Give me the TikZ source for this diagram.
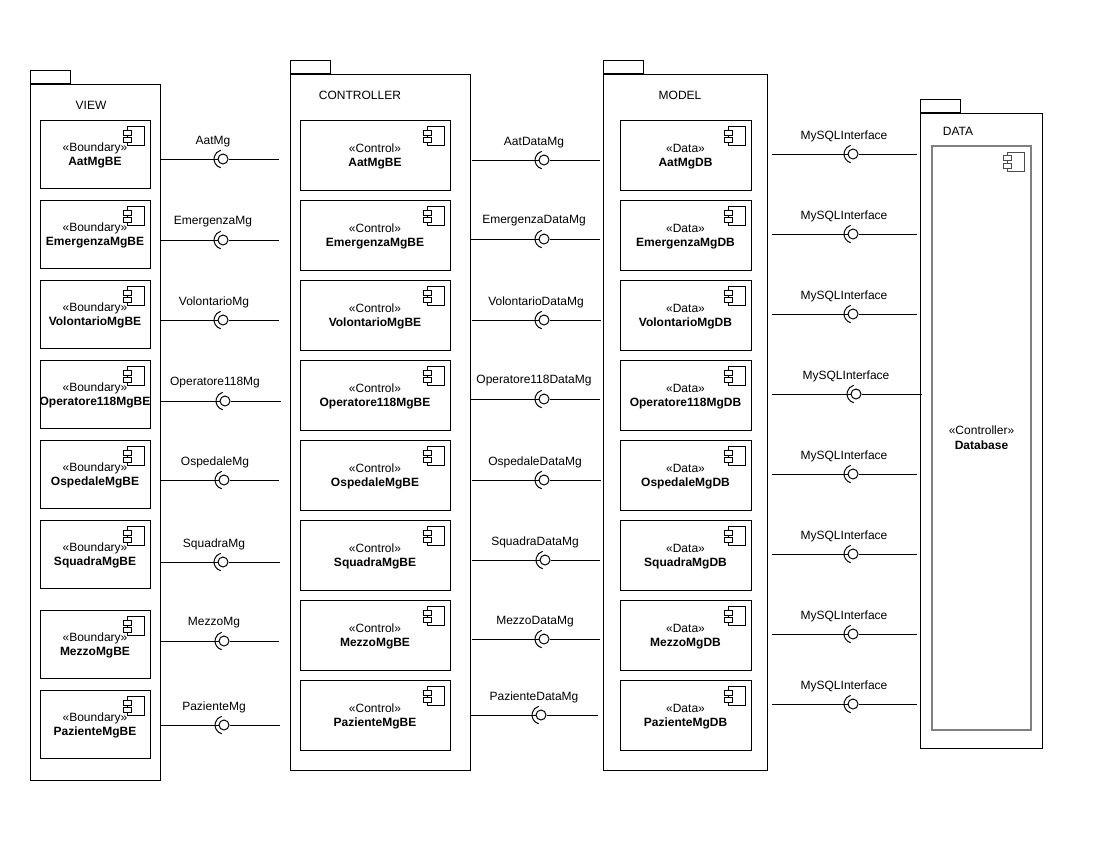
\documentclass[tikz,border=0pt]{standalone}
\usepackage{fontspec}
\setmainfont{Liberation Sans}
\usepackage{xcolor}
\usepackage{tikz}
\usetikzlibrary{positioning, calc}
\tikzset{
  pkg/.style={draw, rectangle, inner sep=0, anchor=north west},
  pkgtab/.style={draw, rectangle, inner sep=0, anchor=south west, minimum width=30pt, minimum height=10pt},
  boxtxt/.style={draw, rectangle, inner xsep=-3pt, inner ysep=0, align=center},
  viewbox/.style={boxtxt, minimum width=82.5pt, minimum height=51pt},
  ctrlbox/.style={boxtxt, minimum width=112.5pt, minimum height=52.5pt},
  modelbox/.style={boxtxt, minimum width=98.25pt, minimum height=52.5pt},
  ball/.style={draw, circle, fill=white, inner sep=0, minimum size=7.5pt},
  txt/.style={inner sep=0, yshift=-1.5pt},
  compicon/.pic={
    \draw (-23,10.5) -- (-23,7) -- (-6.5,7) -- (-6.5,26) -- (-23,26) -- (-23,23);
    \draw (-27,10.5) rectangle (-19,15.5);
    \draw (-27,18) rectangle (-19,23);
    \draw (-23,15.5) -- (-23,18);
  },
  socket/.pic={
    \draw (105:9) arc[start angle=105, end angle=255, radius=9];
  }
}
\newcommand{\stereo}[1]{\rule{0pt}{8.5pt}«#1»}
\begin{document}
\begin{tikzpicture}[x=0.75pt, y=-0.75pt, line width=0.75pt, font=\fontsize{9}{11}\selectfont]
  \useasboundingbox (0,0) rectangle (1100,850);

  % packages
  \node[pkg, minimum width=97.5pt, minimum height=522pt] (view) at (30,84) {};
  \node[pkgtab] (viewtab) at (view.north west) {};
  \node[txt] (viewlbl) at (91,103) {VIEW};
  \node[pkg, minimum width=135pt, minimum height=522pt] (ctrl) at (290,74) {};
  \node[pkgtab] (ctrltab) at (ctrl.north west) {};
  \node[txt] (ctrllbl) at (360,93) {CONTROLLER};
  \node[pkg, minimum width=123pt, minimum height=522pt] (model) at (603,74) {};
  \node[pkgtab] (modeltab) at (model.north west) {};
  \node[txt] (modellbl) at (680,93) {MODEL};
  \node[pkg, minimum width=91.5pt, minimum height=476.25pt] (data) at (920,113) {};
  \node[pkgtab] (datatab) at (data.north west) {};
  \node[txt] (datalbl) at (958,129) {DATA};

  % view
  \node[viewbox] (aatview) at (95,154) {\stereo{Boundary}\\\textbf{AatMgBE}};
  \node[viewbox] (emeview) at (95,234) {\stereo{Boundary}\\\textbf{EmergenzaMgBE}};
  \node[viewbox] (volview) at (95,314) {\stereo{Boundary}\\\textbf{VolontarioMgBE}};
  \node[viewbox] (opeview) at (95,394) {\stereo{Boundary}\\\textbf{Operatore118MgBE}};
  \node[viewbox] (ospview) at (95,474) {\stereo{Boundary}\\\textbf{OspedaleMgBE}};
  \node[viewbox] (squview) at (95,554) {\stereo{Boundary}\\\textbf{SquadraMgBE}};
  \node[viewbox] (mezview) at (95,644) {\stereo{Boundary}\\\textbf{MezzoMgBE}};
  \node[viewbox] (pazview) at (95,724) {\stereo{Boundary}\\\textbf{PazienteMgBE}};

  % controller
  \node[ctrlbox] (aatctrl) at (375,155) {\stereo{Control}\\\textbf{AatMgBE}};
  \node[ctrlbox] (emectrl) at (375,235) {\stereo{Control}\\\textbf{EmergenzaMgBE}};
  \node[ctrlbox] (volctrl) at (375,315) {\stereo{Control}\\\textbf{VolontarioMgBE}};
  \node[ctrlbox] (opectrl) at (375,395) {\stereo{Control}\\\textbf{Operatore118MgBE}};
  \node[ctrlbox] (ospctrl) at (375,475) {\stereo{Control}\\\textbf{OspedaleMgBE}};
  \node[ctrlbox] (squctrl) at (375,555) {\stereo{Control}\\\textbf{SquadraMgBE}};
  \node[ctrlbox] (mezctrl) at (375,635) {\stereo{Control}\\\textbf{MezzoMgBE}};
  \node[ctrlbox] (pazctrl) at (375,715) {\stereo{Control}\\\textbf{PazienteMgBE}};

  % model
  \node[modelbox] (aatmodel) at (685.5,155) {\stereo{Data}\\\textbf{AatMgDB}};
  \node[modelbox] (ememodel) at (685.5,235) {\stereo{Data}\\\textbf{EmergenzaMgDB}};
  \node[modelbox] (volmodel) at (685.5,315) {\stereo{Data}\\\textbf{VolontarioMgDB}};
  \node[modelbox] (opemodel) at (685.5,395) {\stereo{Data}\\\textbf{Operatore118MgDB}};
  \node[modelbox] (ospmodel) at (685.5,475) {\stereo{Data}\\\textbf{OspedaleMgDB}};
  \node[modelbox] (squmodel) at (685.5,555) {\stereo{Data}\\\textbf{SquadraMgDB}};
  \node[modelbox] (mezmodel) at (685.5,635) {\stereo{Data}\\\textbf{MezzoMgDB}};
  \node[modelbox] (pazmodel) at (685.5,715) {\stereo{Data}\\\textbf{PazienteMgDB}};

  % database
  \node[draw=gray, line width=1.1pt, rectangle, inner sep=0, align=center, minimum width=74.25pt, minimum height=438pt] (dbase) at (981.5,438) {«Controller»\\\textbf{Database}};

  % component icons
  \pic at (aatview.north east) {compicon};
  \pic at (emeview.north east) {compicon};
  \pic at (volview.north east) {compicon};
  \pic at (opeview.north east) {compicon};
  \pic at (ospview.north east) {compicon};
  \pic at (squview.north east) {compicon};
  \pic at (mezview.north east) {compicon};
  \pic at (pazview.north east) {compicon};
  \pic at (aatctrl.north east) {compicon};
  \pic at (emectrl.north east) {compicon};
  \pic at (volctrl.north east) {compicon};
  \pic at (opectrl.north east) {compicon};
  \pic at (ospctrl.north east) {compicon};
  \pic at (squctrl.north east) {compicon};
  \pic at (mezctrl.north east) {compicon};
  \pic at (pazctrl.north east) {compicon};
  \pic at (aatmodel.north east) {compicon};
  \pic at (ememodel.north east) {compicon};
  \pic at (volmodel.north east) {compicon};
  \pic at (opemodel.north east) {compicon};
  \pic at (ospmodel.north east) {compicon};
  \pic at (squmodel.north east) {compicon};
  \pic at (mezmodel.north east) {compicon};
  \pic at (pazmodel.north east) {compicon};
  \pic[black!70] at ($(dbase.north east)+(-1,0)$) {compicon};

  % view - controller
  \node[ball] (aatball) at (223,159) {};
  \node[ball] (emeball) at (223,240) {};
  \node[ball] (volball) at (223,320) {};
  \node[ball] (opeball) at (225,401) {};
  \node[ball] (ospball) at (224,480) {};
  \node[ball] (squball) at (223,562) {};
  \node[ball] (mezball) at (224,641) {};
  \node[ball] (pazball) at (224,725) {};
  \coordinate (aatend) at (279,159);
  \coordinate (emeend) at (279,240);
  \coordinate (volend) at (279,320);
  \coordinate (opeend) at (281,401);
  \coordinate (ospend) at (279,480);
  \coordinate (squend) at (280,562);
  \coordinate (mezend) at (279,641);
  \coordinate (pazend) at (280,725);
  \draw (view.east |- aatball) -- (aatball) -- (aatend);
  \draw (view.east |- emeball) -- (emeball) -- (emeend);
  \draw (view.east |- volball) -- (volball) -- (volend);
  \draw (view.east |- opeball) -- (opeball) -- (opeend);
  \draw (view.east |- ospball) -- (ospball) -- (ospend);
  \draw (view.east |- squball) -- (squball) -- (squend);
  \draw (view.east |- mezball) -- (mezball) -- (mezend);
  \draw (view.east |- pazball) -- (pazball) -- (pazend);
  \pic at (aatball) {socket};
  \pic at (emeball) {socket};
  \pic at (volball) {socket};
  \pic at (opeball) {socket};
  \pic at (ospball) {socket};
  \pic at (squball) {socket};
  \pic at (mezball) {socket};
  \pic at (pazball) {socket};
  \node[txt] (aatlbl) at (213,140) {AatMg};
  \node[txt] (emelbl) at (213,220) {EmergenzaMg};
  \node[txt] (vollbl) at (214,300) {VolontarioMg};
  \node[txt] (opelbl) at (215,381) {Operatore118Mg};
  \node[txt] (osplbl) at (215,460) {OspedaleMg};
  \node[txt] (squlbl) at (214,542) {SquadraMg};
  \node[txt] (mezlbl) at (214,621) {MezzoMg};
  \node[txt] (pazlbl) at (214,705) {PazienteMg};

  % controller - model
  \coordinate (aatdstart) at (472,160);
  \coordinate (emedstart) at (470,239);
  \coordinate (voldstart) at (472,320);
  \coordinate (opedstart) at (470,399);
  \coordinate (ospdstart) at (472,480);
  \coordinate (squdstart) at (472,560);
  \coordinate (mezdstart) at (472,639);
  \coordinate (pazdstart) at (470,715);
  \coordinate (aatdend) at (600,160);
  \coordinate (emedend) at (600,239);
  \coordinate (voldend) at (601,320);
  \coordinate (opedend) at (600,399);
  \coordinate (ospdend) at (601,480);
  \coordinate (squdend) at (600,560);
  \coordinate (mezdend) at (600,639);
  \coordinate (pazdend) at (598,715);
  \node[ball] (aatdball) at (544,160) {};
  \node[ball] (emedball) at (544,239) {};
  \node[ball] (voldball) at (544,320) {};
  \node[ball] (opedball) at (544,399) {};
  \node[ball] (ospdball) at (544,480) {};
  \node[ball] (squdball) at (545,560) {};
  \node[ball] (mezdball) at (544,639) {};
  \node[ball] (pazdball) at (541,715) {};
  \draw (aatdstart) -- (aatdball) -- (aatdend);
  \draw (emedstart) -- (emedball) -- (emedend);
  \draw (voldstart) -- (voldball) -- (voldend);
  \draw (opedstart) -- (opedball) -- (opedend);
  \draw (ospdstart) -- (ospdball) -- (ospdend);
  \draw (squdstart) -- (squdball) -- (squdend);
  \draw (mezdstart) -- (mezdball) -- (mezdend);
  \draw (pazdstart) -- (pazdball) -- (pazdend);
  \pic at (aatdball) {socket};
  \pic at (emedball) {socket};
  \pic at (voldball) {socket};
  \pic at (opedball) {socket};
  \pic at (ospdball) {socket};
  \pic at (squdball) {socket};
  \pic at (mezdball) {socket};
  \pic at (pazdball) {socket};
  \node[txt] (aatdlbl) at (534,141) {AatDataMg};
  \node[txt] (emedlbl) at (534,219) {EmergenzaDataMg};
  \node[txt] (voldlbl) at (536,300) {VolontarioDataMg};
  \node[txt] (opedlbl) at (534,379) {Operatore118DataMg};
  \node[txt] (ospdlbl) at (535,460) {OspedaleDataMg};
  \node[txt] (squdlbl) at (535,540) {SquadraDataMg};
  \node[txt] (mezdlbl) at (535,620) {MezzoDataMg};
  \node[txt] (pazdlbl) at (534,695) {PazienteDataMg};

  % model - data
  \coordinate (sqlstart1) at (772,154);
  \coordinate (sqlstart2) at (772,234);
  \coordinate (sqlstart3) at (772,314);
  \coordinate (sqlstart4) at (772,394);
  \coordinate (sqlstart5) at (772,474);
  \coordinate (sqlstart6) at (772,554);
  \coordinate (sqlstart7) at (772,634);
  \coordinate (sqlstart8) at (772,704);
  \coordinate (sqlend1) at (917,154);
  \coordinate (sqlend2) at (917,234);
  \coordinate (sqlend3) at (917,314);
  \coordinate (sqlend4) at (922,394);
  \coordinate (sqlend5) at (917,474);
  \coordinate (sqlend6) at (917,554);
  \coordinate (sqlend7) at (917,634);
  \coordinate (sqlend8) at (917,704);
  \node[ball] (sqlball1) at (853,154) {};
  \node[ball] (sqlball2) at (853,234) {};
  \node[ball] (sqlball3) at (853,314) {};
  \node[ball] (sqlball4) at (856,394) {};
  \node[ball] (sqlball5) at (853,474) {};
  \node[ball] (sqlball6) at (853,554) {};
  \node[ball] (sqlball7) at (853,634) {};
  \node[ball] (sqlball8) at (853,704) {};
  \draw (sqlstart1) -- (sqlball1) -- (sqlend1);
  \draw (sqlstart2) -- (sqlball2) -- (sqlend2);
  \draw (sqlstart3) -- (sqlball3) -- (sqlend3);
  \draw (sqlstart4) -- (sqlball4) -- (sqlend4);
  \draw (sqlstart5) -- (sqlball5) -- (sqlend5);
  \draw (sqlstart6) -- (sqlball6) -- (sqlend6);
  \draw (sqlstart7) -- (sqlball7) -- (sqlend7);
  \draw (sqlstart8) -- (sqlball8) -- (sqlend8);
  \pic at (sqlball1) {socket};
  \pic at (sqlball2) {socket};
  \pic at (sqlball3) {socket};
  \pic at (sqlball4) {socket};
  \pic at (sqlball5) {socket};
  \pic at (sqlball6) {socket};
  \pic at (sqlball7) {socket};
  \pic at (sqlball8) {socket};
  \node[txt] (sqllbl1) at (844,134) {MySQLInterface};
  \node[txt] (sqllbl2) at (844,214) {MySQLInterface};
  \node[txt] (sqllbl3) at (844,294) {MySQLInterface};
  \node[txt] (sqllbl4) at (846,374) {MySQLInterface};
  \node[txt] (sqllbl5) at (844,454) {MySQLInterface};
  \node[txt] (sqllbl6) at (844,534) {MySQLInterface};
  \node[txt] (sqllbl7) at (844,614) {MySQLInterface};
  \node[txt] (sqllbl8) at (844,684) {MySQLInterface};
\end{tikzpicture}
\end{document}
